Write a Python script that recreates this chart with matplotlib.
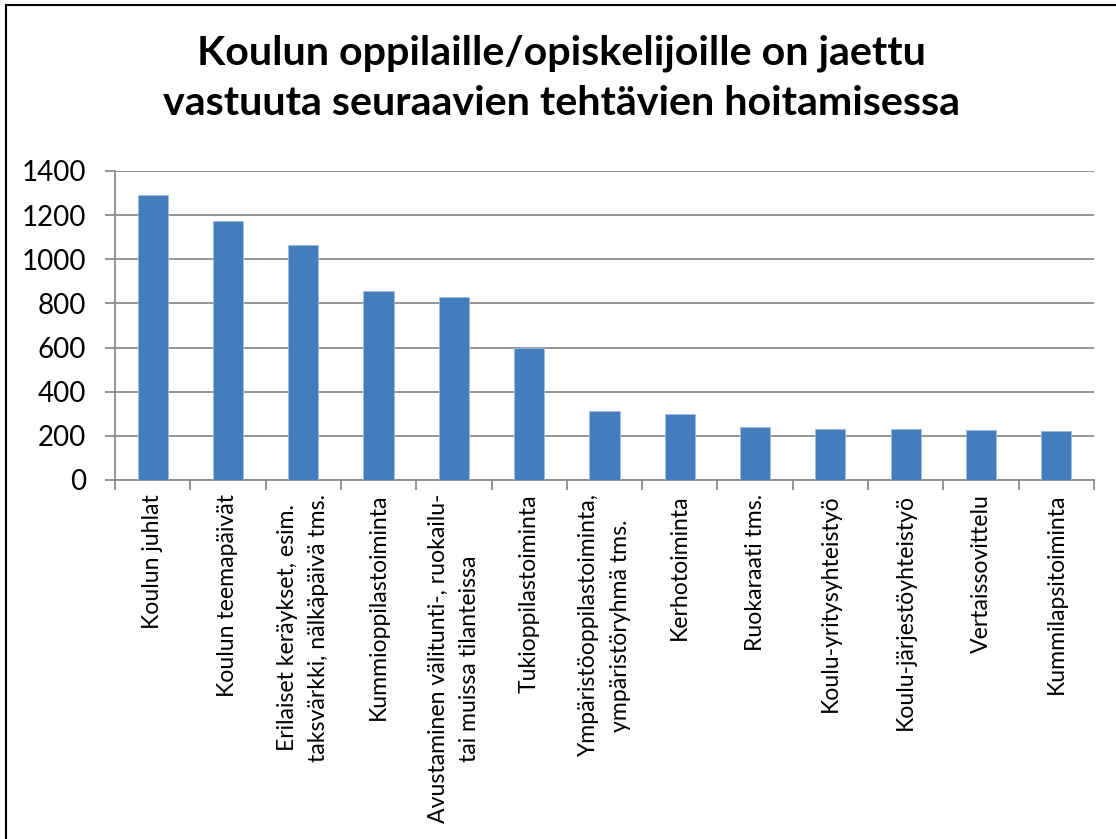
import numpy as np
import matplotlib.pyplot as plt
from matplotlib.patches import Rectangle

categories = [
    "Koulun juhlat",
    "Koulun teemapäivät",
    "Erilaiset keräykset, esim.\ntaksvärkki, nälkäpäivä tms.",
    "Kummioppilastoiminta",
    "Avustaminen välitunti-, ruokailu-\ntai muissa tilanteissa",
    "Tukioppilastoiminta",
    "Ympäristöoppilastoiminta,\nympäristöryhmä tms.",
    "Kerhotoiminta",
    "Ruokaraati tms.",
    "Koulu-yritysyhteistyö",
    "Koulu-järjestöyhteistyö",
    "Vertaissovittelu",
    "Kummilapsitoiminta",
]
values = [1291, 1172, 1065, 856, 830, 600, 313, 300, 240, 231, 229, 225, 220]
yticks = [0, 200, 400, 600, 800, 1000, 1200, 1400]

plt.rcParams['font.family'] = ['Lato', 'DejaVu Sans']

fig = plt.figure(figsize=(11.16, 8.39), dpi=100)
ax = fig.add_axes([0.1030, 0.4279, 0.8773, 0.3683])

x = np.arange(len(categories))
ax.bar(x, values, width=0.4, color='#437DBD', edgecolor='#9DBBE0', linewidth=0.6, zorder=3)

ax.set_xlim(-0.5, len(categories) - 0.5)
ax.set_ylim(0, 1400)
ax.set_yticks(yticks)
ax.set_yticklabels([str(v) for v in yticks], fontsize=20)
ax.yaxis.grid(True, color='#8C8C8C', linewidth=1.3, zorder=0)
ax.tick_params(axis='y', length=7, width=1.3, color='#8C8C8C', pad=14)

ax.set_xticks(x)
ax.set_xticklabels(categories, rotation=90, fontsize=16.6, ha='center', va='top',
                   multialignment='center', linespacing=1.6)
ax.set_xticks(np.arange(len(categories) + 1) - 0.5, minor=True)
ax.tick_params(axis='x', which='major', length=0, pad=10)
ax.tick_params(axis='x', which='minor', length=7, width=1.3, color='#8C8C8C')

for s in ['top', 'right']:
    ax.spines[s].set_visible(False)
for s in ['left', 'bottom']:
    ax.spines[s].set_color('#8C8C8C')
    ax.spines[s].set_linewidth(1.3)

fig.text(0.503, 0.907, "Koulun oppilaille/opiskelijoille on jaettu\nvastuuta seuraavien tehtävien hoitamisessa",
         ha='center', va='center', fontsize=29.7, fontweight='bold', linespacing=1.45)

fig.patches.append(Rectangle((6 / 1116, -0.05), 1.1, 1.05 - 5 / 839, transform=fig.transFigure,
                             fill=False, edgecolor='black', linewidth=1.5))

fig.savefig('out.png', dpi=100)
